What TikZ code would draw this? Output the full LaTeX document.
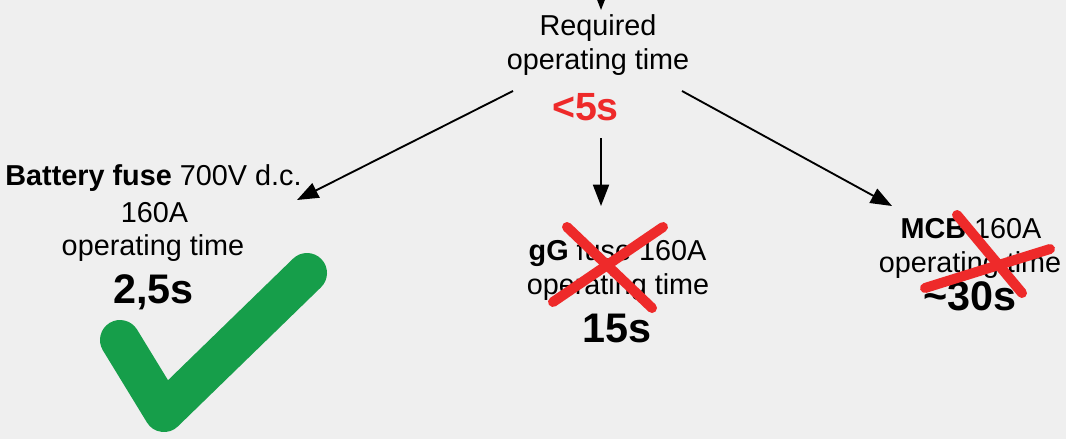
\documentclass[tikz,border=0pt]{standalone}
\usepackage{fontspec}
\setmainfont{Liberation Sans}
\usetikzlibrary{arrows.meta}
\definecolor{bg}{HTML}{EFEFEF}
\definecolor{xred}{HTML}{EE2A2A}
\definecolor{okgreen}{HTML}{169E4A}
\begin{document}
\begin{tikzpicture}[x=0.75pt,y=-0.75pt,
  txt/.style={font=\fontsize{21.6}{26}\selectfont, anchor=base, inner sep=0pt},
  big/.style={font=\fontsize{31}{36}\selectfont\bfseries, anchor=base, inner sep=0pt},
  arr/.style={-{Triangle[length=16pt,width=12pt]}, line width=1.4pt},
  cross/.style={xred, line width=7.5pt, line cap=round},
  check/.style={okgreen, line width=30pt, line cap=round, line join=round}]
\fill[bg] (0,0) rectangle (1066,439);
\useasboundingbox (0,0) rectangle (1066,439);

% top block
\node[txt] (req1) at (598,36) {Required};
\node[txt] (req2) at (598,69) {operating time};
\node[big, font=\fontsize{29.5}{34}\selectfont\bfseries, text=xred] (req3) at (585.5,120) {<5s};

% left block
\node[txt] (bf1) at (153.5,185) {\textbf{Battery fuse} 700V d.c.};
\node[txt] (bf2) at (154.5,222) {160A};
\node[txt] (bf3) at (153,255) {operating time};
\node[big] (bf4) at (153.5,303) {2,5s};

% middle block
\node[txt] (gg1) at (617.5,260) {\textbf{gG} fuse 160A};
\node[txt] (gg2) at (618,294) {operating time};
\node[big] (gg3) at (617,342) {15s};

% right block
\node[txt] (mcb1) at (971,238) {\textbf{MCB} 160A};
\node[txt] (mcb2) at (970,272) {operating time};
\node[big] (mcb3) at (970,310) {\textasciitilde30s};

% connector end points
\coordinate (topin) at (601,-20);
\coordinate (topout) at (601,10);
\coordinate (lstart) at (513,91);
\coordinate (lend) at (297,200);
\coordinate (mstart) at (601,138);
\coordinate (mend) at (601,206);
\coordinate (rstart) at (682,91);
\coordinate (rend) at (892,206);

\draw[arr] (topin) -- (topout);
\draw[arr] (lstart) -- (lend);
\draw[arr] (mstart) -- (mend);
\draw[arr] (rstart) -- (rend);

% check mark
\draw[check] (120,340) -- (164,412) -- (307,273);

% crosses
\draw[cross] (567,227) -- (652,308);
\draw[cross] (663,227) -- (553,302);
\draw[cross] (957,215) -- (1022,293);
\draw[cross] (925,288) -- (1050,249);
\end{tikzpicture}
\end{document}
